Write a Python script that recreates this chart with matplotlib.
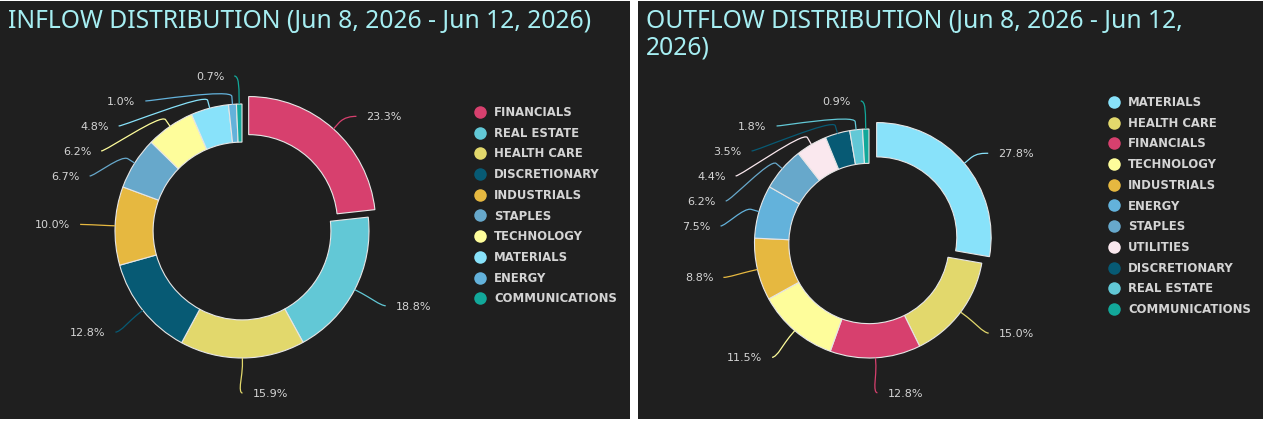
import matplotlib
matplotlib.use("Agg")
import matplotlib.pyplot as plt
import numpy as np
from matplotlib.path import Path
from matplotlib.patches import PathPatch
from matplotlib.lines import Line2D

W, H = 1269, 426
BG = "#1f1f1f"
EDGE = "#e6e6e6"
TITLE_COLOR = "#a6eef2"
TEXT_COLOR = "#d4d4d4"

inflow_title = "INFLOW DISTRIBUTION (Jun 8, 2026 - Jun 12, 2026)"
inflow_categories = ["FINANCIALS", "REAL ESTATE", "HEALTH CARE", "DISCRETIONARY",
                     "INDUSTRIALS", "STAPLES", "TECHNOLOGY", "MATERIALS", "ENERGY",
                     "COMMUNICATIONS"]
inflow_values = [23.3, 18.8, 15.9, 12.8, 10.0, 6.7, 6.2, 4.8, 1.0, 0.7]

outflow_title = "OUTFLOW DISTRIBUTION (Jun 8, 2026 - Jun 12,\n2026)"
outflow_categories = ["MATERIALS", "HEALTH CARE", "FINANCIALS", "TECHNOLOGY",
                      "INDUSTRIALS", "ENERGY", "STAPLES", "UTILITIES", "DISCRETIONARY",
                      "REAL ESTATE", "COMMUNICATIONS"]
outflow_values = [27.8, 15.0, 12.8, 11.5, 8.8, 7.5, 6.2, 4.4, 3.5, 1.8, 0.9]

sector_colors = {
    "FINANCIALS": "#d7406e",
    "REAL ESTATE": "#62c8d6",
    "HEALTH CARE": "#e2d86c",
    "DISCRETIONARY": "#075a74",
    "INDUSTRIALS": "#e6b840",
    "STAPLES": "#67a8cb",
    "TECHNOLOGY": "#fefd9b",
    "MATERIALS": "#88e2fa",
    "ENERGY": "#63b2db",
    "COMMUNICATIONS": "#12a89a",
    "UTILITIES": "#fae8ee",
}

fig = plt.figure(figsize=(W / 100, H / 100), dpi=100, facecolor="white")


def img_y(py):
    return H - py


def make_axes(x0, x1, y0, y1):
    ax = fig.add_axes([x0 / W, (H - y1) / H, (x1 - x0) / W, (y1 - y0) / H])
    ax.set_facecolor(BG)
    for s in ax.spines.values():
        s.set_visible(False)
    ax.set_xticks([])
    ax.set_yticks([])
    return ax, (x0, x1), (H - y1, H - y0)


def draw_panel(ax, xlim, ylim, title, cats, vals, cx, cy_img, R, title_xy,
               legend_xy):
    cy = img_y(cy_img)
    explode = [10] + [0] * (len(vals) - 1)
    wedges, _ = ax.pie(vals, colors=[sector_colors[c] for c in cats],
                       startangle=90, counterclock=False, radius=R,
                       center=(cx, cy), explode=explode, frame=True,
                       wedgeprops=dict(width=0.3 * R, edgecolor=EDGE,
                                       linewidth=0.8))
    ax.set_xlim(*xlim)
    ax.set_ylim(*ylim)
    ax.set_aspect("auto")
    ax.set_xticks([])
    ax.set_yticks([])

    # data labels with connectors
    rl = R + 35
    items = []
    for i, (w, v, c) in enumerate(zip(wedges, vals, cats)):
        mid = np.deg2rad((w.theta1 + w.theta2) / 2)
        u = np.array([np.cos(mid), np.sin(mid)])
        wc = np.array(w.center)
        # the sliced point's label sits a little lower in the reference
        y_nat = cy + rl * np.sin(mid) - (6 if explode[i] else 0)
        items.append(dict(
            val=v, color=sector_colors[c],
            touch=wc + R * u, brk=wc + (R + 8) * u,
            y_nat=y_nat,
            side=1 if np.cos(mid) >= 0 else -1))
    top = cy + R + 28
    for side in (1, -1):
        group = sorted([it for it in items if it["side"] == side],
                       key=lambda d: -d["y_nat"])
        prev = None
        for k, it in enumerate(group):
            y = min(it["y_nat"], top)
            if prev is not None:
                y = min(y, prev - 25)
            it["y"] = y
            dx = np.sqrt(max(rl ** 2 - (y - cy) ** 2, 0.0))
            if k == 0 and it["y_nat"] >= top:
                it["x"] = it["touch"][0] + side * 5
            else:
                it["x"] = cx + side * dx
            prev = y
    for it in items:
        side = it["side"]
        ax_, ay = it["x"], it["y"]
        bx, by = it["brk"]
        tx, ty = it["touch"]
        verts = [(ax_, ay), (ax_ - side * 5, ay), (2 * bx - tx, 2 * by - ty),
                 (bx, by), (tx, ty)]
        codes = [Path.MOVETO, Path.CURVE4, Path.CURVE4, Path.CURVE4, Path.LINETO]
        ax.add_patch(PathPatch(Path(verts, codes), facecolor="none",
                               edgecolor=it["color"], linewidth=0.9))
        ax.text(ax_ + side * 10, ay, f"{it['val']:.1f}%",
                ha="left" if side > 0 else "right", va="center_baseline",
                fontsize=8, color=TEXT_COLOR, family="DejaVu Sans")

    # title
    t = ax.text(title_xy[0], img_y(title_xy[1]), title, ha="left",
                va="baseline", color=TITLE_COLOR, family="Noto Sans",
                fontsize=15, linespacing=1.07)

    # legend
    handles = [Line2D([], [], marker="o", linestyle="", markersize=9,
                      markerfacecolor=sector_colors[c], markeredgewidth=0)
               for c in cats]
    ax.legend(handles, cats, loc="upper left",
              bbox_to_anchor=(legend_xy[0], img_y(legend_xy[1])),
              bbox_transform=ax.transData, frameon=False,
              prop=dict(family="DejaVu Sans", weight="bold", size=8.4),
              labelcolor=TEXT_COLOR, handlelength=1.1, handletextpad=0.65,
              labelspacing=0.66, borderpad=0, borderaxespad=0)
    return t


axL, xlL, ylL = make_axes(0, 630, 1, 419)
tL = draw_panel(axL, xlL, ylL, inflow_title, inflow_categories, inflow_values,
                242, 231, 127, (8, 28), (473.5, 106))

axR, xlR, ylR = make_axes(638, 1263, 1, 419)
tR = draw_panel(axR, xlR, ylR, outflow_title, outflow_categories, outflow_values,
                869, 243.5, 114.5, (646, 28), (1107.5, 96))

# fit title size to the reference width, and align the wrapped title's first line
fig.canvas.draw()
r = fig.canvas.get_renderer()
bb = tL.get_window_extent(r)
fs = tL.get_fontsize() * 584 / bb.width
tL.set_fontsize(fs)
tR.set_fontsize(fs)
fig.canvas.draw()
top_px = tL.get_window_extent(r).y1
tR.set_va("top")
tR.set_y(axR.transData.inverted().transform((0, top_px))[1])

fig.savefig("out.png", dpi=100, facecolor="white")
